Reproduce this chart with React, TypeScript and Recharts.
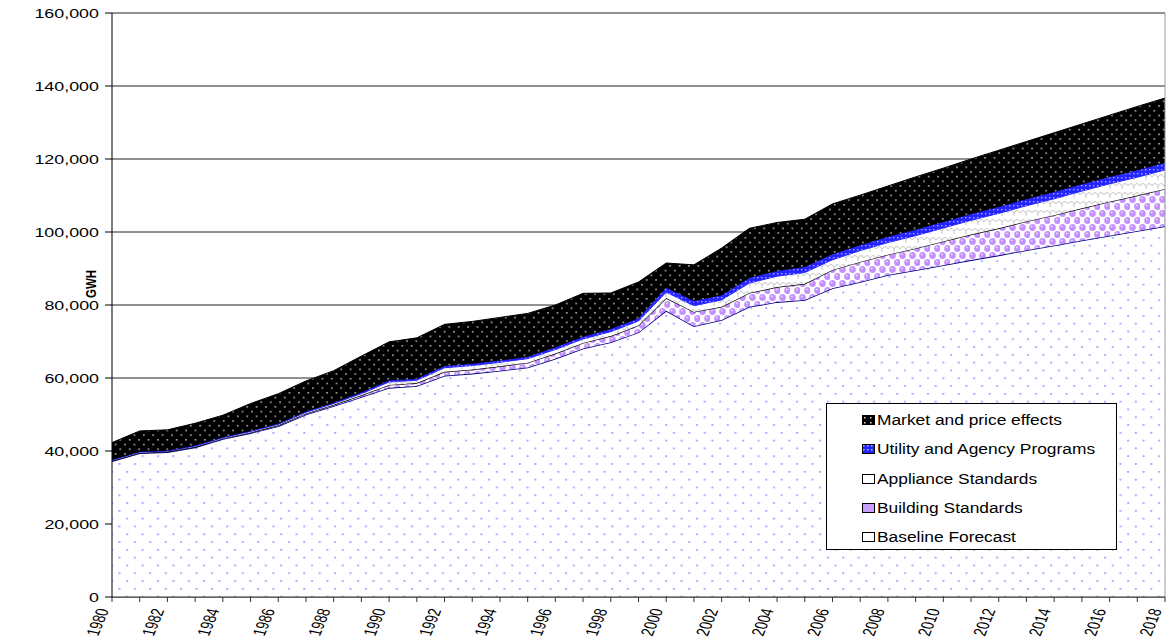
import React from "react"
import { AreaChart, Area, XAxis, YAxis, CartesianGrid, Legend, ReferenceLine } from "recharts"

const years = [
  1980, 1981, 1982, 1983, 1984, 1985, 1986, 1987, 1988, 1989,
  1990, 1991, 1992, 1993, 1994, 1995, 1996, 1997, 1998, 1999,
  2000, 2001, 2002, 2003, 2004, 2005, 2006, 2007, 2008, 2009,
  2010, 2011, 2012, 2013, 2014, 2015, 2016, 2017, 2018,
]

// stacked bands, GWH
const baseline = [
  37200, 39400, 39700, 41000, 43300, 44900, 46800, 50000, 52300, 54800,
  57300, 57800, 60600, 61200, 62000, 62900, 65300, 68100, 69800, 72500,
  78400, 74200, 75900, 79500, 80800, 81400, 84600, 86300, 88200, 89500,
  90900, 92300, 93600, 95000, 96300, 97700, 99000, 100300, 101600,
]
const building = [
  100, 100, 150, 150, 150, 200, 250, 300, 350, 450,
  800, 800, 1100, 1100, 1200, 1300, 1400, 1500, 1700, 1900,
  3500, 3900, 3600, 3800, 4100, 4400, 5000, 5500, 5600, 6000,
  6500, 7000, 7400, 7900, 8300, 8800, 9300, 9700, 10200,
]
const appliance = [
  200, 200, 150, 200, 200, 250, 250, 300, 350, 450,
  800, 800, 1100, 1100, 1100, 1100, 1100, 1100, 1200, 1200,
  1600, 1700, 1900, 2700, 3000, 3100, 2800, 3100, 3300, 3500,
  3700, 3900, 4100, 4300, 4500, 4700, 4900, 5000, 5200,
]
const utility = [
  100, 100, 100, 150, 150, 150, 200, 200, 200, 300,
  400, 400, 500, 500, 500, 500, 600, 600, 700, 800,
  1200, 1300, 1300, 1400, 1400, 1500, 1500, 1500, 1600, 1600,
  1650, 1700, 1750, 1800, 1850, 1900, 1900, 1950, 2000,
]
const market = [
  4700, 5700, 5700, 6100, 6000, 7500, 8200, 8400, 8800, 10000,
  10600, 11200, 11400, 11600, 11800, 11900, 11600, 11900, 9900, 9900,
  6800, 9900, 12900, 13600, 13300, 13100, 13800, 13700, 13900, 14500,
  14750, 15100, 15550, 15800, 16250, 16500, 16900, 17450, 17700,
]

const yTicks = [0, 20000, 40000, 60000, 80000, 100000, 120000, 140000, 160000]

const legendItems = [
  { name: "Market and price effects", swatch: "url(#pMarketSw)" },
  { name: "Utility and Agency Programs", swatch: "url(#pUtilSw)" },
  { name: "Appliance Standards", swatch: "#fff" },
  { name: "Building Standards", swatch: "#c9a0ff" },
  { name: "Baseline Forecast", swatch: "#fff" },
]

const data = years.map((year, i) => ({
  year,
  baseline: baseline[i],
  building: building[i],
  appliance: appliance[i],
  utility: utility[i],
  market: market[i],
}))

const FONT = "'Liberation Sans', Arial, sans-serif"

const fmt = (v: number) => v.toLocaleString("en-US")

const YTick = (props: any) => {
  const { x, y, payload } = props
  return (
    <g transform={`translate(${x - 4},${y}) scale(1.43,1)`}>
      <text textAnchor="end" dy="0.36em" fontSize={12.5} fontFamily={FONT} fill="#000">
        {fmt(payload.value)}
      </text>
    </g>
  )
}

const XTick = (props: any) => {
  const { x, y, payload } = props
  if (payload.value % 2 !== 0) return <g />
  return (
    <g transform={`translate(${x - 3},${y + 6}) scale(1.44,1) rotate(-74)`}>
      <text textAnchor="end" fontSize={12.5} fontFamily={FONT} fill="#000">
        {payload.value}
      </text>
    </g>
  )
}

const YLabel = () => (
  <g transform="translate(96,284) scale(1.3,1) rotate(-90)">
    <text textAnchor="middle" fontSize={11.5} fontWeight="bold" fontFamily={FONT} fill="#000">
      GWH
    </text>
  </g>
)

const LegendBox = () => (
  <div
    style={{
      width: 291,
      height: 147,
      border: "1px solid #000",
      background: "#fff",
      boxSizing: "border-box",
      position: "relative",
      fontFamily: FONT,
    }}
  >
    {legendItems.map((it, i) => (
      <div
        key={it.name}
        style={{
          position: "absolute",
          left: 35,
          top: 6 + i * 29.3,
          height: 20,
          display: "flex",
          alignItems: "center",
          whiteSpace: "nowrap",
        }}
      >
        <svg width={13} height={10} style={{ display: "block" }}>
          <rect x={0.5} y={0.5} width={12} height={9} fill={it.swatch} stroke="#000" strokeWidth={1} />
        </svg>
        <span
          style={{
            marginLeft: 2,
            fontSize: 14,
            color: "#000",
            display: "inline-block",
            transform: "scaleX(1.24)",
            transformOrigin: "left center",
          }}
        >
          {it.name}
        </span>
      </div>
    ))}
  </div>
)

export default function App() {
  return (
    <div style={{ position: "absolute", left: 0, top: 0, width: 1169, height: 643, background: "#fff" }}>
      <AreaChart width={1169} height={643} data={data} margin={{ top: 13, right: 4, bottom: 0, left: 0 }}>
        <defs>
          <pattern id="pBase" width="15.4" height="15.6" patternUnits="userSpaceOnUse">
            <rect width="15.4" height="15.6" fill="#fff" />
            <rect x="3" y="3" width="2" height="1.6" fill="#9a9aff" />
            <rect x="10.7" y="10.8" width="2" height="1.6" fill="#9a9aff" />
          </pattern>
          <pattern id="pBuild" width="10" height="14" patternUnits="userSpaceOnUse">
            <rect width="10" height="14" fill="#fff" />
            <ellipse cx="2.5" cy="3.5" rx="3.3" ry="3.5" fill="#c490ff" />
            <ellipse cx="12.5" cy="3.5" rx="3.3" ry="3.5" fill="#c490ff" />
            <ellipse cx="7.5" cy="10.5" rx="3.3" ry="3.5" fill="#c490ff" />
            <ellipse cx="7.5" cy="-3.5" rx="3.3" ry="3.5" fill="#c490ff" />
            <circle cx="1.8" cy="2.4" r="0.9" fill="#ecdcff" />
            <circle cx="6.8" cy="9.4" r="0.9" fill="#ecdcff" />
          </pattern>
          <pattern id="pApp" width="12" height="9" patternUnits="userSpaceOnUse">
            <rect width="12" height="9" fill="#fff" />
            <path d="M0,6 Q3,1 6,6 Q9,1 12,6 M6,6 L6,9" stroke="#c4c4c4" fill="none" strokeWidth="1" />
          </pattern>
          <pattern id="pUtil" width="4" height="4" patternUnits="userSpaceOnUse">
            <rect width="4" height="4" fill="#2424ff" />
            <rect x="1" y="1" width="1.4" height="1.4" fill="#a8a8ff" />
          </pattern>
          <pattern id="pMarket" width="9.4" height="9.4" patternUnits="userSpaceOnUse">
            <rect width="9.4" height="9.4" fill="#000" />
            <rect x="2" y="2" width="1.6" height="1.4" fill="#c8c8c8" />
            <rect x="6.7" y="6.7" width="1.6" height="1.4" fill="#c8c8c8" />
          </pattern>
          <pattern id="pMarketSw" width="6" height="5" patternUnits="userSpaceOnUse">
            <rect width="6" height="5" fill="#000" />
            <rect x="2" y="2" width="1.5" height="1.5" fill="#ddd" />
          </pattern>
          <pattern id="pUtilSw" width="4" height="4" patternUnits="userSpaceOnUse">
            <rect width="4" height="4" fill="#2424ff" />
            <rect x="1" y="1" width="1.5" height="1.5" fill="#b0b0ff" />
          </pattern>
        </defs>
        <CartesianGrid vertical={false} stroke="#222" strokeWidth={1} />
        <XAxis
          dataKey="year"
          type="number"
          domain={[1980, 2018]}
          ticks={years}
          interval={0}
          height={46}
          tickSize={5}
          tickMargin={2}
          stroke="#333"
          tick={<XTick />}
        />
        <YAxis
          width={112}
          domain={[0, 160000]}
          ticks={yTicks}
          interval={0}
          tickSize={7}
          tickMargin={2}
          stroke="#000"
          tick={<YTick />}
          label={<YLabel />}
        />
        <Area
          type="linear"
          dataKey="baseline"
          stackId="1"
          fill="url(#pBase)"
          fillOpacity={1}
          stroke="#000080"
          strokeWidth={1.6}
          isAnimationActive={false}
          dot={false}
          activeDot={false}
        />
        <Area
          type="linear"
          dataKey="building"
          stackId="1"
          fill="url(#pBuild)"
          fillOpacity={1}
          stroke="#000"
          strokeWidth={1.3}
          isAnimationActive={false}
          dot={false}
          activeDot={false}
        />
        <Area
          type="linear"
          dataKey="appliance"
          stackId="1"
          fill="url(#pApp)"
          fillOpacity={1}
          stroke="#2a2aff"
          strokeWidth={1}
          isAnimationActive={false}
          dot={false}
          activeDot={false}
        />
        <Area
          type="linear"
          dataKey="utility"
          stackId="1"
          fill="url(#pUtil)"
          fillOpacity={1}
          stroke="#1010d0"
          strokeWidth={1}
          isAnimationActive={false}
          dot={false}
          activeDot={false}
        />
        <Area
          type="linear"
          dataKey="market"
          stackId="1"
          fill="url(#pMarket)"
          fillOpacity={1}
          stroke="#000"
          strokeWidth={1}
          isAnimationActive={false}
          dot={false}
          activeDot={false}
        />
        <ReferenceLine x={2018} stroke="#999" strokeWidth={1} />
        <Legend
          layout="vertical"
          align="center"
          verticalAlign="middle"
          content={<LegendBox />}
          wrapperStyle={{ left: 826, top: 403, width: 291, height: 147 }}
        />
      </AreaChart>
    </div>
  )
}
